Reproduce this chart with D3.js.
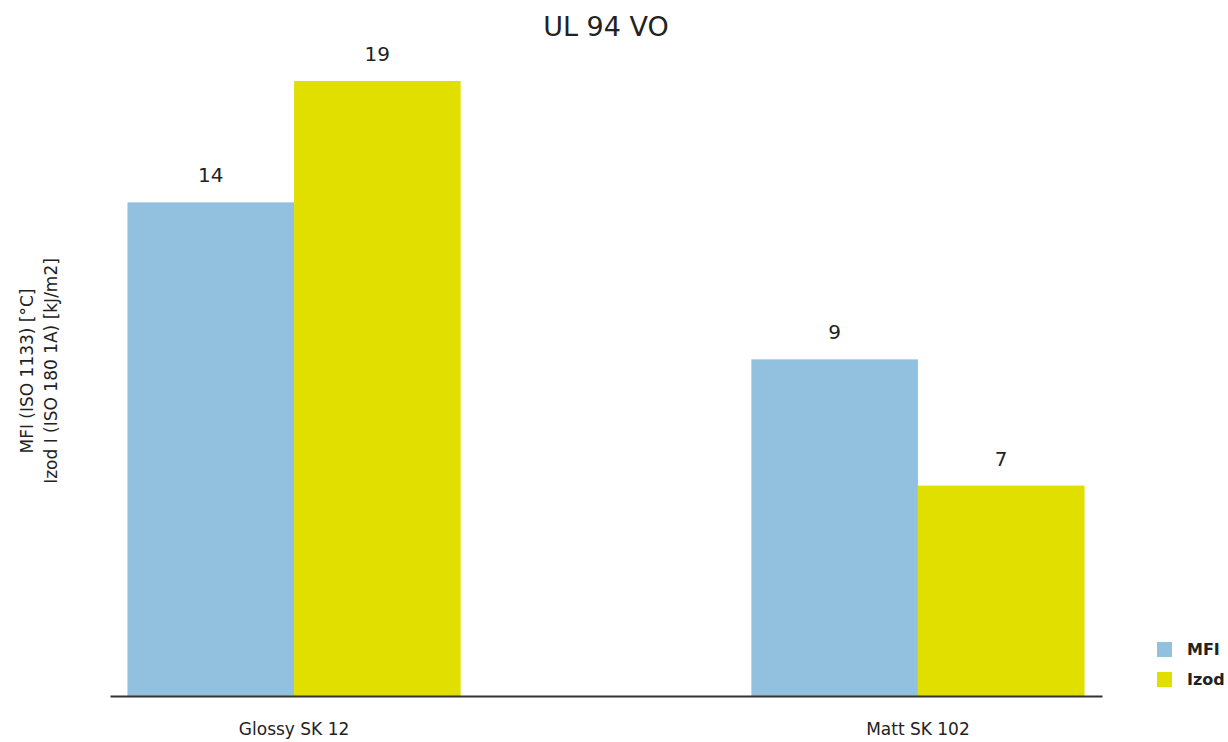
<!DOCTYPE html>
<html>
<head>
<meta charset="utf-8">
<script src="https://cdn.jsdelivr.net/npm/d3@7"></script>
<style>
  html, body { margin: 0; padding: 0; background: #fff; }
  svg { display: block; font-family: "DejaVu Sans", "Noto Sans", sans-serif; }
</style>
</head>
<body>
<svg id="chart" width="1228" height="742"></svg>
<script>
const title = "UL 94 VO";
const categories = ["Glossy SK 12", "Matt SK 102"];
const seriesNames = ["MFI", "Izod"];
// bar heights (axis units, Izod Glossy = 19)
const mfiValues = [15.25, 10.4];
const izodValues = [19, 6.5];
// value labels as printed on the chart
const mfiLabels = ["14", "9"];
const izodLabels = ["19", "7"];
const yAxisLines = ["MFI (ISO 1133) [°C]", "Izod I (ISO 180 1A) [kJ/m2]"];

const colors = { MFI: "#91c1de", Izod: "#e0df00" };

const svg = d3.select("#chart");
const W = 1228, H = 742;
const m = { left: 110, right: 126, top: 81, bottom: 46 };
const baseY = H - m.bottom; // 696

const x0 = d3.scaleBand()
  .domain(categories)
  .range([m.left, W - m.right])
  .paddingInner(0.466)
  .paddingOuter(0.028);

const x1 = d3.scaleBand()
  .domain(seriesNames)
  .range([0, x0.bandwidth()])
  .padding(0);

const y = d3.scaleLinear()
  .domain([0, d3.max(izodValues.concat(mfiValues))])
  .range([baseY, m.top]);

const rows = categories.map((c, i) => ({
  cat: c,
  items: [
    { key: "MFI", value: mfiValues[i], label: mfiLabels[i] },
    { key: "Izod", value: izodValues[i], label: izodLabels[i] }
  ]
}));

const groups = svg.selectAll("g.grp")
  .data(rows)
  .join("g")
  .attr("class", "grp")
  .attr("transform", d => `translate(${x0(d.cat)},0)`);

groups.selectAll("rect")
  .data(d => d.items)
  .join("rect")
  .attr("x", d => x1(d.key))
  .attr("y", d => y(d.value))
  .attr("width", x1.bandwidth())
  .attr("height", d => baseY - y(d.value))
  .attr("fill", d => colors[d.key]);

groups.selectAll("text.val")
  .data(d => d.items)
  .join("text")
  .attr("class", "val")
  .attr("x", d => x1(d.key) + x1.bandwidth() / 2)
  .attr("y", d => y(d.value) - 20)
  .attr("text-anchor", "middle")
  .attr("font-size", 20)
  .attr("fill", "#222")
  .text(d => d.label);

// x axis
const xAxis = svg.append("g")
  .attr("transform", `translate(0,${baseY})`)
  .call(d3.axisBottom(x0).tickSize(0).tickPadding(27));
xAxis.select(".domain").attr("stroke", "#333").attr("stroke-width", 2);
xAxis.selectAll("text").attr("font-size", 17).attr("fill", "#222")
  .attr("font-family", "'DejaVu Sans', sans-serif");

// title
svg.append("text")
  .attr("x", (m.left + W - m.right) / 2)
  .attr("y", 36)
  .attr("text-anchor", "middle")
  .attr("font-size", 27)
  .attr("fill", "#222")
  .text(title);

// y axis title (two lines, rotated)
const yt = svg.append("text")
  .attr("transform", `translate(33,371) rotate(-90)`)
  .attr("text-anchor", "middle")
  .attr("font-size", 17)
  .attr("fill", "#222");
yt.selectAll("tspan")
  .data(yAxisLines)
  .join("tspan")
  .attr("x", 0)
  .attr("dy", (d, i) => i === 0 ? 0 : 24)
  .text(d => d);

// legend
const legend = svg.append("g").attr("transform", "translate(1157,642)");
const li = legend.selectAll("g")
  .data(seriesNames)
  .join("g")
  .attr("transform", (d, i) => `translate(0,${i * 30})`);
li.append("rect").attr("width", 15).attr("height", 15).attr("fill", d => colors[d]);
li.append("text")
  .attr("x", 30).attr("y", 13)
  .attr("font-size", 16).attr("font-weight", 600)
  .attr("fill", "#222")
  .text(d => d);
</script>
</body>
</html>
